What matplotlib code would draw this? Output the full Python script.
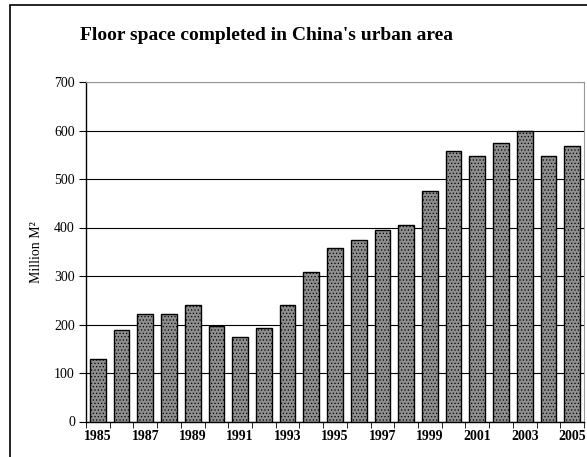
import matplotlib.pyplot as plt
import matplotlib.patches as pat
import numpy as np

years = list(range(1985, 2006))
floor_space = [128, 189, 222, 222, 240, 197, 174, 192, 240, 308, 357,
               375, 394, 405, 475, 558, 548, 575, 598, 548, 568]
yticks = [0, 100, 200, 300, 400, 500, 600, 700]

plt.rcParams['font.family'] = ['Liberation Serif', 'DejaVu Serif']
plt.rcParams['hatch.color'] = '#666666'
plt.rcParams['hatch.linewidth'] = 0.5

fig = plt.figure(figsize=(5.87, 4.57), dpi=100)
ax = fig.add_axes([86 / 587, 1 - 421.5 / 457, 498 / 587, 339.5 / 457])

# outer frame of the chart object, runs off the right and bottom
fig.patches.append(pat.Rectangle((9.5 / 587, -0.1), 1.2, 1 - 5.5 / 457 + 0.1,
                                 transform=fig.transFigure, fill=False,
                                 edgecolor='black', linewidth=1.2))

x = np.arange(len(years))
ax.bar(x, floor_space, width=0.66, color='#8e8e8e', edgecolor='black',
       linewidth=1.0, hatch='.....', zorder=3)

ax.set_xlim(-0.5, len(years) - 0.5)
ax.set_ylim(0, 700)
ax.set_yticks(yticks)
ax.set_yticklabels([str(v) for v in yticks], fontsize=10)
ax.yaxis.grid(True, color='black', linewidth=0.8, zorder=0)

ax.set_xticks(x[::2])
ax.set_xticklabels([str(y) for y in years[::2]], fontsize=10, fontweight='bold')
ax.tick_params(axis='x', length=0, pad=6)
ax.set_xticks(np.arange(len(years) + 1) - 0.5, minor=True)
ax.tick_params(axis='x', which='minor', length=4, direction='out')
ax.tick_params(axis='y', length=5, direction='out', pad=3)

for s in ['top', 'right']:
    ax.spines[s].set_color('#999999')
ax.spines['left'].set_linewidth(1.0)
ax.spines['bottom'].set_linewidth(1.0)

ax.set_ylabel('Million M²', fontsize=10, labelpad=8)
fig.text(267 / 587, 1 - 36 / 457, "Floor space completed in China's urban area",
         ha='center', va='center', fontsize=14, fontweight='bold')

fig.savefig('out.png', dpi=100)
